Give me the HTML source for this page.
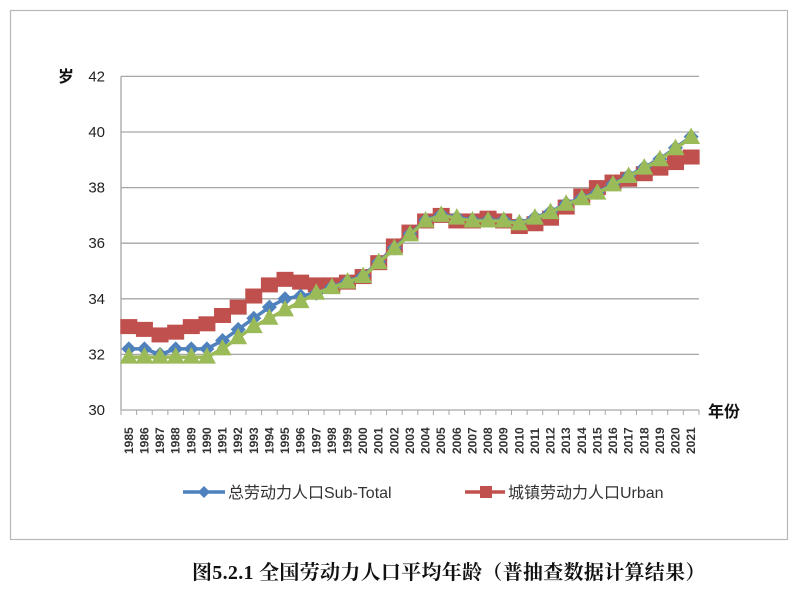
<!DOCTYPE html>
<html><head><meta charset="utf-8">
<style>
html,body{margin:0;padding:0;background:#fff;}
svg{display:block;font-family:"Liberation Sans","Noto Sans CJK SC",sans-serif;}
</style></head><body>
<svg id="s" width="800" height="591" viewBox="0 0 800 591" xmlns="http://www.w3.org/2000/svg">
<rect x="10.5" y="10.5" width="777" height="529" fill="#fff" stroke="#b8b8b8" stroke-width="1.2"/>
<g id="grid" stroke="#a6a6a6" stroke-width="1.3"></g>
<g id="lab" font-size="15" fill="#222" text-anchor="end"></g>
<text x="58" y="82" font-size="16" font-weight="bold" fill="#111" font-family="'Noto Sans CJK SC',sans-serif">岁</text>
<text x="708" y="417" font-size="16" font-weight="bold" fill="#111" font-family="'Noto Sans CJK SC',sans-serif">年份</text>
<g id="years" font-size="12" font-weight="bold" fill="#333"></g>
<g id="series"></g>
<line x1="183" y1="492" x2="225" y2="492" stroke="#4f81bd" stroke-width="3.5"/>
<polygon points="204,486 210,492 204,498 198,492" fill="#4f81bd"/>
<text x="228" y="498" font-size="16" fill="#333">总劳动力人口Sub-Total</text>
<line x1="465" y1="492" x2="505" y2="492" stroke="#c0504d" stroke-width="3.5"/>
<rect x="480" y="486" width="12" height="12" fill="#c0504d"/>
<text x="508" y="498" font-size="16" fill="#333">城镇劳动力人口Urban</text>
<text x="192" y="579" font-size="20" letter-spacing="0.3" font-weight="bold" fill="#111" font-family="'Liberation Serif','Noto Serif CJK SC',serif">图5.2.1 全国劳动力人口平均年龄（普抽查数据计算结果）</text>
</svg>
<script>
var NS="http://www.w3.org/2000/svg",s=document.getElementById('s');
function el(p,t,a,txt){var e=document.createElementNS(NS,t);for(var k in a)e.setAttribute(k,a[k]);if(txt)e.textContent=txt;document.getElementById(p).appendChild(e);return e;}
function Y(v){return 410-27.8*(v-30);}
var L=121,W=15.62;function X(i){return L+W*(i+0.5);}
for(var v=32;v<=42;v+=2){el('grid','line',{x1:L,x2:L+W*37,y1:Y(v),y2:Y(v)});}
el('grid','line',{x1:L,x2:L,y1:Y(42),y2:Y(30)});
el('grid','line',{x1:L,x2:L+W*37,y1:Y(30),y2:Y(30)});
for(var i=0;i<=37;i++)el('grid','line',{x1:L+W*i,x2:L+W*i,y1:410,y2:415,'stroke-width':1});
for(var v=30;v<=42;v+=2)el('lab','text',{x:105,y:Y(v)+5},String(v));
for(var i=0;i<37;i++){var x=X(i)+4;el('years','text',{x:x,y:454,transform:'rotate(-90 '+x+' 454)'},String(1985+i));}
var red=[33.0,32.9,32.7,32.8,33.0,33.1,33.4,33.7,34.1,34.5,34.7,34.6,34.5,34.5,34.6,34.8,35.3,35.9,36.4,36.8,37.0,36.8,36.8,36.9,36.8,36.6,36.7,36.9,37.3,37.7,38.0,38.2,38.3,38.5,38.7,38.9,39.1];
var grn=[31.9,31.9,31.9,31.9,31.9,31.9,32.2,32.6,33.0,33.3,33.6,33.9,34.2,34.4,34.6,34.8,35.3,35.8,36.3,36.8,37.0,36.9,36.8,36.8,36.8,36.7,36.9,37.1,37.4,37.6,37.8,38.1,38.4,38.7,39.0,39.4,39.8];
var blu=[32.2,32.2,32.0,32.2,32.2,32.2,32.5,32.9,33.3,33.7,34.0,34.1,34.2];
for(var i=13;i<37;i++)blu.push(grn[i]+0.03);
function pts(a){return a.map(function(v,i){return X(i)+','+Y(v)}).join(' ');}
el('series','polyline',{points:pts(red),fill:'none',stroke:'#c0504d','stroke-width':3.5});
red.forEach(function(v,i){el('series','rect',{x:X(i)-8.5,y:Y(v)-7.5,width:17,height:15,fill:'#c0504d'});});
el('series','polyline',{points:pts(blu),fill:'none',stroke:'#4f81bd','stroke-width':3.5});
blu.forEach(function(v,i){var x=X(i),y=Y(v);el('series','polygon',{points:(x)+','+(y-7.5)+' '+(x+7.5)+','+y+' '+x+','+(y+7.5)+' '+(x-7.5)+','+y,fill:'#4f81bd'});});
el('series','polyline',{points:pts(grn),fill:'none',stroke:'#9bbb59','stroke-width':3.5});
grn.forEach(function(v,i){var x=X(i),y=Y(v);el('series','polygon',{points:x+','+(y-10)+' '+(x+9)+','+(y+6.5)+' '+(x-9)+','+(y+6.5),fill:'#9bbb59'});});
</script>
</body></html>
